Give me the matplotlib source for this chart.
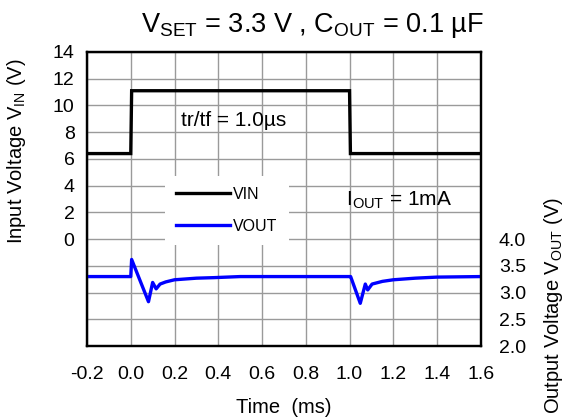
import matplotlib
matplotlib.use("Agg")
import matplotlib.pyplot as plt

plt.rcParams["font.family"] = ["Liberation Sans", "DejaVu Sans"]
plt.rcParams["mathtext.fontset"] = "custom"
plt.rcParams["mathtext.rm"] = "Liberation Sans"

# input step: 6.4 V -> 11.1 V at 0 ms, back to 6.4 V at 1 ms
vin_t = [-0.2, 0.0, 0.004, 1.0, 1.004, 1.6]
vin_v = [6.4, 6.4, 11.1, 11.1, 6.4, 6.4]

# output response (line transient)
vout_t = [-0.2, 0.0, 0.004, 0.081, 0.100, 0.116, 0.134, 0.16, 0.2, 0.3,
          0.38, 0.5, 1.0, 1.005, 1.049, 1.072, 1.083, 1.103, 1.15, 1.2,
          1.3, 1.4, 1.6]
vout_v = [3.30, 3.30, 3.62, 2.83, 3.19, 3.07, 3.16, 3.20, 3.24, 3.27,
          3.28, 3.30, 3.30, 3.30, 2.80, 3.16, 3.05, 3.16, 3.21, 3.24,
          3.27, 3.29, 3.30]

x_ticks = [-0.2, 0.0, 0.2, 0.4, 0.6, 0.8, 1.0, 1.2, 1.4, 1.6]
vin_ticks = [0, 2, 4, 6, 8, 10, 12, 14]
vout_ticks = [2.0, 2.5, 3.0, 3.5, 4.0]

fig = plt.figure(figsize=(5.65, 4.19), dpi=100)
ax = fig.add_axes([0.154, 0.174, 0.697, 0.702])
ax2 = ax.twinx()

# gridlines every 2 V on the input scale, over the whole box
grid_v = list(range(-8, 15, 2))
ax.set_xlim(-0.2, 1.6)
ax.set_ylim(-8, 14)
ax.set_yticks(grid_v)
ax.set_yticklabels([str(v) if v in vin_ticks else "" for v in grid_v])
ax.set_xticks(x_ticks)
ax.set_xticklabels([f"{t:.1f}" for t in x_ticks])
ax.grid(True, color="#9a9a9a", linewidth=1.0)
ax.set_axisbelow(True)
ax.tick_params(length=0, labelsize=14)
ax.tick_params(axis="y", pad=9)
ax.tick_params(axis="x", pad=14)

ax2.set_ylim(2.0, 7.5)
ax2.set_yticks(vout_ticks)
ax2.set_yticklabels([f"{v:.1f}" for v in vout_ticks])
ax2.tick_params(length=0, labelsize=14, pad=13)

for sp in list(ax.spines.values()) + list(ax2.spines.values()):
    sp.set_linewidth(1.6)

l1, = ax.plot(vin_t, vin_v, color="black", linewidth=2.4, label="VIN",
              solid_joinstyle="miter")
l2, = ax2.plot(vout_t, vout_v, color="#0000ff", linewidth=2.4, label="VOUT")

leg = ax.legend([l1, l2], ["VIN", "VOUT"], loc="center",
                bbox_to_anchor=(0.355, 0.462), fontsize=11.5, frameon=True,
                handlelength=3.4, handletextpad=0.2, labelspacing=1.05,
                borderpad=0.7, borderaxespad=0, fancybox=False)
leg.get_frame().set_edgecolor("none")
leg.get_frame().set_facecolor("white")
leg.get_frame().set_alpha(1.0)
leg.set_zorder(5)

ax.text(0.23, 8.9, "tr/tf = 1.0µs", fontsize=15, ha="left", va="center")
ax.text(0.985, 2.9, r"I$_{\mathregular{OUT}}$ = 1mA", fontsize=15,
        ha="left", va="center")

fig.text(312 / 565, 1 - 32.5 / 419,
         r"V$_{\mathregular{SET}}$ = 3.3 V , C$_{\mathregular{OUT}}$ = 0.1 µF",
         fontsize=19.5, ha="center", va="baseline")
ax.set_xlabel("Time  (ms)", fontsize=14.5, labelpad=11)
ax.set_ylabel(r"Input Voltage V$_{\mathregular{IN}}$ (V)", fontsize=14.5)
ax.yaxis.set_label_coords(-0.150, 0.664)
ax2.set_ylabel(r"Output Voltage V$_{\mathregular{OUT}}$ (V)", fontsize=14.5)
ax2.yaxis.set_label_coords(1.155, 0.139)

fig.savefig("out.png", dpi=100)
